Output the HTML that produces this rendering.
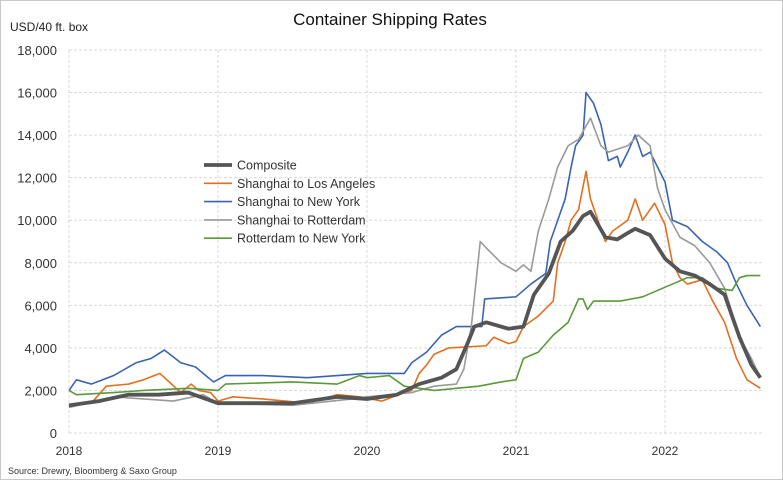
<!DOCTYPE html>
<html><head><meta charset="utf-8"><style>
body{margin:0;background:#fff}
svg text{font-family:"Liberation Sans",sans-serif}
</style></head><body>
<svg id="chart" width="783" height="480" xmlns="http://www.w3.org/2000/svg">
<rect x="0.5" y="0.5" width="782" height="479" fill="#fff" stroke="#c8c8c8"/>
<text x="390" y="25" text-anchor="middle" font-size="17" fill="#111">Container Shipping Rates</text>
<text x="10" y="31" font-size="12" fill="#222">USD/40 ft. box</text>
<text x="8" y="474" font-size="9" fill="#333">Source: Drewry, Bloomberg &amp; Saxo Group</text>
<g id="grid"></g><g id="axes"></g><g id="series"></g><g id="legend"></g>
</svg>
<script>
const yTicks=[0,2000,4000,6000,8000,10000,12000,14000,16000,18000];
const xTicks=[2018,2019,2020,2021,2022];
const seriesNames=["Shanghai to Los Angeles","Shanghai to New York","Shanghai to Rotterdam","Rotterdam to New York","Composite"];
const laDates=[2018,2018.15,2018.25,2018.4,2018.5,2018.61,2018.75,2018.82,2018.87,2018.95,2019,2019.1,2019.3,2019.45,2019.6,2019.8,2019.95,2020.1,2020.25,2020.3,2020.35,2020.4,2020.45,2020.55,2020.8,2020.85,2020.95,2021,2021.05,2021.15,2021.25,2021.28,2021.33,2021.37,2021.42,2021.47,2021.5,2021.55,2021.6,2021.65,2021.75,2021.8,2021.85,2021.93,2022,2022.05,2022.1,2022.15,2022.25,2022.32,2022.4,2022.48,2022.55,2022.64];
const laValues=[1300,1400,2200,2300,2500,2800,1900,2300,2000,1900,1500,1700,1600,1500,1400,1800,1700,1500,1900,2000,2800,3200,3700,4000,4100,4500,4200,4300,5000,5500,6200,8000,9000,10000,10500,12300,11000,10000,9000,9500,10000,11000,10000,10800,9800,8000,7300,7000,7200,6200,5200,3500,2500,2100];
const nyDates=[2018,2018.05,2018.15,2018.3,2018.45,2018.55,2018.64,2018.75,2018.85,2018.9,2018.97,2019.05,2019.3,2019.6,2019.8,2020,2020.25,2020.3,2020.4,2020.5,2020.6,2020.77,2020.79,2021,2021.1,2021.2,2021.23,2021.28,2021.33,2021.37,2021.4,2021.45,2021.47,2021.52,2021.57,2021.62,2021.68,2021.7,2021.75,2021.8,2021.85,2021.9,2021.95,2022,2022.05,2022.15,2022.25,2022.35,2022.42,2022.48,2022.55,2022.64];
const nyValues=[2000,2500,2300,2700,3300,3500,3900,3300,3100,2800,2400,2700,2700,2600,2700,2800,2800,3300,3800,4600,5000,5000,6300,6400,7000,7500,9000,10000,11000,12500,13500,14000,16000,15500,14500,12800,13000,12500,13200,14000,13000,13200,12500,11800,10000,9700,9000,8500,8000,7000,6000,5000];
const rtDates=[2018,2018.3,2018.5,2018.7,2018.9,2019,2019.5,2019.9,2020,2020.3,2020.45,2020.6,2020.65,2020.7,2020.76,2020.8,2020.9,2021,2021.05,2021.1,2021.15,2021.22,2021.28,2021.35,2021.42,2021.5,2021.57,2021.62,2021.75,2021.82,2021.9,2021.95,2022,2022.1,2022.2,2022.3,2022.4,2022.5,2022.58,2022.64];
const rtValues=[1200,1700,1600,1500,1800,1400,1300,1600,1700,1900,2200,2300,3000,5000,9000,8700,8000,7600,7900,7600,9500,11000,12500,13500,13800,14800,13500,13200,13500,14000,13500,11500,10500,9200,8800,8000,6800,4500,3500,2600];
const rnDates=[2018,2018.05,2018.3,2018.5,2018.8,2019,2019.05,2019.5,2019.8,2019.95,2020,2020.15,2020.25,2020.45,2020.6,2020.75,2020.9,2021,2021.05,2021.15,2021.25,2021.35,2021.42,2021.45,2021.48,2021.52,2021.7,2021.85,2021.95,2022.05,2022.15,2022.25,2022.35,2022.45,2022.5,2022.55,2022.64];
const rnValues=[2000,1800,1900,2000,2100,2000,2300,2400,2300,2700,2600,2700,2200,2000,2100,2200,2400,2500,3500,3800,4600,5200,6300,6300,5800,6200,6200,6400,6700,7000,7300,7300,6800,6700,7300,7400,7400];
const cpDates=[2018,2018.2,2018.4,2018.6,2018.8,2019,2019.5,2019.8,2020,2020.2,2020.35,2020.5,2020.6,2020.68,2020.72,2020.8,2020.95,2021.05,2021.12,2021.22,2021.3,2021.38,2021.45,2021.5,2021.55,2021.6,2021.68,2021.75,2021.8,2021.9,2022,2022.1,2022.2,2022.3,2022.4,2022.5,2022.58,2022.64];
const cpValues=[1300,1500,1800,1800,1900,1400,1400,1700,1600,1800,2300,2600,3000,4300,5000,5200,4900,5000,6500,7500,9000,9500,10200,10400,9800,9200,9100,9400,9600,9300,8200,7600,7400,7000,6500,4500,3200,2600];

const X0=69,X1=760,Y0=433,Y1=50;
const xs=t=>X0+(t-2018)*149;
const ys=v=>Y0-(v/18000)*(Y0-Y1);
const NS="http://www.w3.org/2000/svg";
function mk(tag,attrs,parent){const e=document.createElementNS(NS,tag);for(const k in attrs)e.setAttribute(k,attrs[k]);parent.appendChild(e);return e;}
const grid=document.getElementById('grid'),axes=document.getElementById('axes'),ser=document.getElementById('series'),leg=document.getElementById('legend');
yTicks.forEach(v=>{
 const l=mk('line',{x1:X0,x2:X1+2,y1:ys(v),y2:ys(v),stroke:'#d9d9d9','stroke-dasharray':'3,2'},grid);
 
 
 const t=mk('text',{x:57,y:ys(v)+5,'text-anchor':'end','font-size':'13',fill:'#333'},axes);
 t.textContent=v.toLocaleString('en-US');
 
 
});
xTicks.forEach(v=>{
 const l=mk('line',{x1:xs(v),x2:xs(v),y1:Y1,y2:Y0,stroke:'#d9d9d9','stroke-dasharray':'3,2'},grid);
 
 
 const t=mk('text',{x:xs(v),y:455,'text-anchor':'middle','font-size':'12',fill:'#333'},axes);
 t.textContent=v;
 
 
});
const series=[
 {d:laDates,v:laValues,c:'#e2701f',w:1.6,n:'line-shanghai-los-angeles'},
 {d:nyDates,v:nyValues,c:'#3a64b3',w:1.6,n:'line-shanghai-new-york'},
 {d:rtDates,v:rtValues,c:'#9a9a9a',w:1.6,n:'line-shanghai-rotterdam'},
 {d:rnDates,v:rnValues,c:'#5a9a3a',w:1.6,n:'line-rotterdam-new-york'},
 {d:cpDates,v:cpValues,c:'#555555',w:3.8,n:'line-composite'}];
series.forEach(s=>{
 const p=mk('polyline',{points:s.d.map((t,i)=>xs(t)+','+ys(s.v[i])).join(' '),fill:'none',stroke:s.c,'stroke-width':s.w,'stroke-linejoin':'round'},ser);
 
 
});
const legOrder=[[4,'#555555',3.8],[0,'#e2701f',1.6],[1,'#3a64b3',1.6],[2,'#9a9a9a',1.6],[3,'#5a9a3a',1.6]];
legOrder.forEach((o,i)=>{
 const y=165+i*18.3;
 const l=mk('line',{x1:204,x2:232,y1:y,y2:y,stroke:o[1],'stroke-width':o[2]},leg);
 
 
 const t=mk('text',{x:237,y:y+4.5,'font-size':'12.5',fill:'#333'},leg);
 t.textContent=seriesNames[o[0]];
 
 
});
</script>
</body></html>
